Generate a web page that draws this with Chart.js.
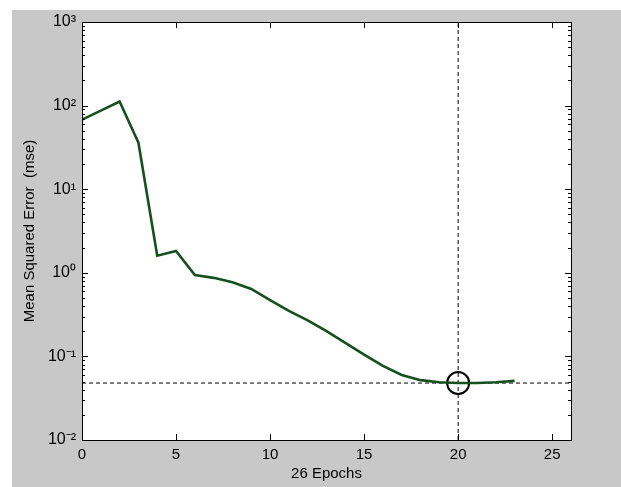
<!DOCTYPE html>
<html>
<head>
<meta charset="utf-8">
<script src="https://cdn.jsdelivr.net/npm/chart.js@4"></script>
<style>
  html, body { margin: 0; padding: 0; background: #fff; }
  #wrap { width: 621px; height: 487px; }
</style>
</head>
<body>
<div id="wrap"><canvas id="perf"></canvas></div>
<script>
// Training performance data
const epochs = [0, 1, 2, 3, 4, 5, 6, 7, 8, 9, 10, 11, 12, 13, 14, 15, 16, 17, 18, 19, 20, 21, 22, 23];
const mseValues = [68, 87, 112, 36, 1.6, 1.82, 0.94, 0.87, 0.77, 0.64, 0.47, 0.35, 0.27, 0.2, 0.145, 0.105, 0.077, 0.06, 0.052, 0.049, 0.048, 0.048, 0.049, 0.051];
const bestEpoch = 20;
const bestValue = 0.048;
const xTicks = [0, 5, 10, 15, 20, 25];
const yTicks = [0.01, 0.1, 1, 10, 100, 1000];
const yTickLabels = ['10\u207B\u00B2', '10\u207B\u00B9', '10\u2070', '10\u00B9', '10\u00B2', '10\u00B3'];

const FONT = 'Arial, "Liberation Sans", sans-serif';

// Gray panel behind the axes
const panelBg = {
    id: 'panelBg',
    beforeDraw(chart) {
        const ctx = chart.ctx;
        const a = chart.chartArea;
        ctx.save();
        ctx.fillStyle = '#ffffff';
        ctx.fillRect(0, 0, chart.width, chart.height);
        ctx.fillStyle = '#c8c8c8';
        ctx.fillRect(12, 10, chart.width - 12, chart.height - 10);
        ctx.fillStyle = '#ffffff';
        ctx.fillRect(a.left, a.top, a.right - a.left, a.bottom - a.top);
        ctx.restore();
    }
};

// Box and inward ticks, MATLAB style
const boxTicks = {
    id: 'boxTicks',
    afterDraw(chart) {
        const ctx = chart.ctx;
        const a = chart.chartArea;
        const xs = chart.scales.x;
        const ys = chart.scales.y;
        ctx.save();
        ctx.strokeStyle = '#000';
        ctx.lineWidth = 1;
        ctx.beginPath();
        xTicks.forEach(v => {
            const px = Math.round(xs.getPixelForValue(v)) + 0.5;
            ctx.moveTo(px, a.bottom); ctx.lineTo(px, a.bottom - 6);
            ctx.moveTo(px, a.top); ctx.lineTo(px, a.top + 6);
        });
        for (let e = -2; e < 3; e++) {
            for (let m = 1; m < 10; m++) {
                const v = m * Math.pow(10, e);
                const len = m === 1 ? 6 : 3;
                const py = Math.round(ys.getPixelForValue(v)) + 0.5;
                ctx.moveTo(a.left, py); ctx.lineTo(a.left + len, py);
                ctx.moveTo(a.right, py); ctx.lineTo(a.right - len, py);
            }
        }
        ctx.stroke();
        ctx.strokeRect(Math.round(a.left) + 0.5, Math.round(a.top) + 0.5,
            Math.round(a.right - a.left), Math.round(a.bottom - a.top));
        ctx.restore();
    }
};

new Chart(document.getElementById('perf'), {
    type: 'scatter',
    data: {
        datasets: [
            {
                label: 'Train',
                data: epochs.map((e, i) => ({ x: e, y: mseValues[i] })),
                showLine: true,
                borderColor: '#17501f',
                borderWidth: 2.6,
                pointRadius: 0,
                tension: 0
            },
            {
                label: 'Best',
                data: [{ x: 0, y: bestValue }, { x: 26, y: bestValue }],
                showLine: true,
                borderColor: '#000',
                borderWidth: 1,
                borderDash: [4, 3],
                pointRadius: 0
            },
            {
                label: 'Best epoch',
                data: [{ x: bestEpoch, y: 0.01 }, { x: bestEpoch, y: 1000 }],
                showLine: true,
                borderColor: '#000',
                borderWidth: 1,
                borderDash: [4, 3],
                pointRadius: 0
            },
            {
                label: 'Best point',
                data: [{ x: bestEpoch, y: bestValue }],
                pointStyle: 'circle',
                pointRadius: 11,
                pointBorderWidth: 2,
                pointBorderColor: '#000',
                pointBackgroundColor: 'rgba(0,0,0,0)'
            }
        ]
    },
    options: {
        responsive: true,
        maintainAspectRatio: false,
        animation: false,
        devicePixelRatio: 1,
        layout: { padding: { left: 0, top: 22, right: 50, bottom: 0 } },
        plugins: {
            legend: { display: false },
            tooltip: { enabled: false }
        },
        scales: {
            x: {
                type: 'linear',
                min: 0,
                max: 26,
                afterBuildTicks: s => { s.ticks = xTicks.map(v => ({ value: v })); },
                afterFit: s => { s.height = 47; },
                grid: { display: false, drawTicks: false },
                border: { display: false },
                ticks: {
                    padding: 6,
                    color: '#000',
                    font: { family: FONT, size: 15 }
                },
                title: {
                    display: true,
                    text: '26 Epochs',
                    color: '#000',
                    font: { family: FONT, size: 15 },
                    padding: { top: 0, bottom: 4 }
                }
            },
            y: {
                type: 'logarithmic',
                min: 0.01,
                max: 1000,
                afterBuildTicks: s => { s.ticks = yTicks.map(v => ({ value: v })); },
                afterFit: s => { s.width = 82; },
                grid: { display: false, drawTicks: false },
                border: { display: false },
                ticks: {
                    padding: 6,
                    color: '#000',
                    font: { family: FONT, size: 16 },
                    callback: (v, i) => yTickLabels[i]
                },
                title: {
                    display: true,
                    text: 'Mean Squared Error  (mse)',
                    color: '#000',
                    font: { family: FONT, size: 15 },
                    padding: { top: 21, bottom: 0 }
                }
            }
        }
    },
    plugins: [panelBg, boxTicks]
});
</script>
</body>
</html>
